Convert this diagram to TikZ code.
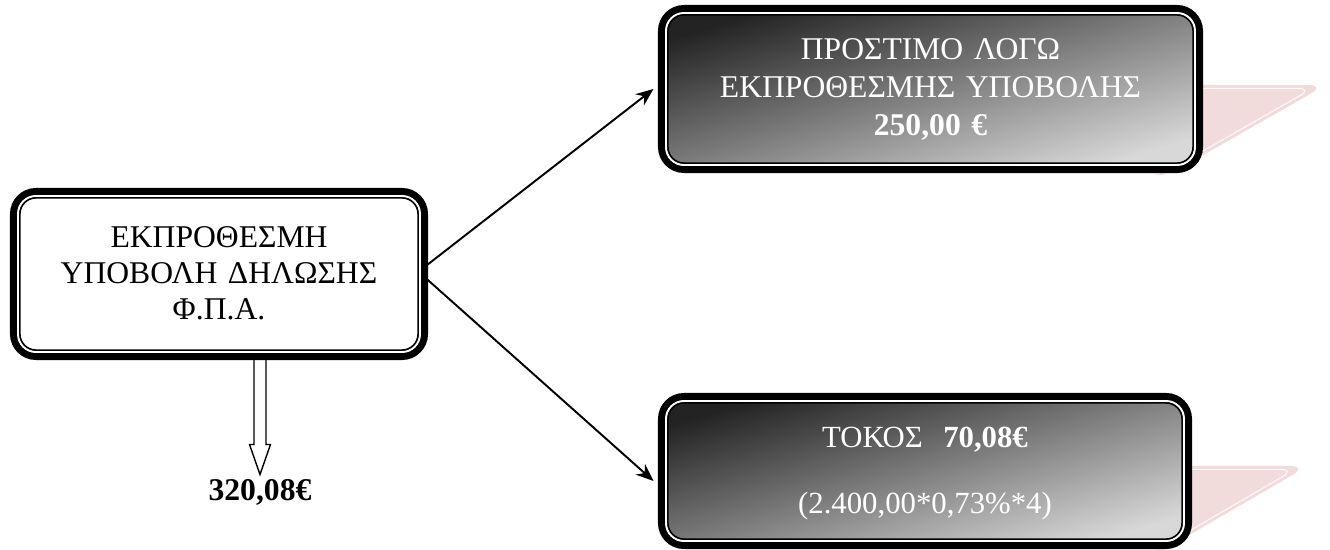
\documentclass[tikz,border=0pt]{standalone}
\usepackage{fontspec}
\setmainfont{Liberation Serif}
\usepackage{xcolor}
\usetikzlibrary{positioning,calc,arrows.meta}
\definecolor{boxdark}{RGB}{35,35,35}
\definecolor{boxlight}{RGB}{216,216,216}
\definecolor{rose}{RGB}{242,220,219}

\begin{document}
\begin{tikzpicture}[font=\fontsize{17.5}{22}\selectfont,
				panel/.style={draw, line width=4pt, rounded corners=0.45cm, outer sep=0pt, inner sep=0pt, align=center},
				plainpanel/.style={panel, fill=white, text=black},
				greypanel/.style={panel, top color=boxdark, bottom color=boxlight, shading angle=17, text=white},
				trim/.style={draw, line width=1pt, double=white, double distance=1.1pt, rounded corners=0.36cm},
				link/.style={-{Stealth[length=10pt,width=8pt]}, line width=1.1pt},
				hollow/.style={draw, line width=0.8pt, line join=miter},
				sum/.style={font=\fontsize{18}{20}\selectfont\bfseries, inner sep=1pt}]
				\useasboundingbox (0,0) rectangle (26.6,11);

				% pink tabs behind the two result boxes
				\fill[rose, rounded corners=10pt] (23.0,9.3) -- (26.52,9.3) -- (23.36,7.5) -- (23.0,7.5) -- cycle;
				\draw[white, line width=0.5pt, rounded corners=8pt] (23.1,9.23) -- (26.25,9.23) -- (23.34,7.57);
				\fill[rose, rounded corners=10pt] (23.0,1.68) -- (26.16,1.68) -- (23.2,-0.04) -- (23.0,-0.04) -- cycle;
				\draw[white, line width=0.5pt, rounded corners=8pt] (23.1,1.61) -- (25.9,1.61) -- (23.13,0.0);

				\node[plainpanel, font=\fontsize{18}{20.4}\selectfont, text width=8.22cm, text height=1.13cm, text depth=2.17cm] (fva) at (4.38,5.52) {ΕΚΠΡΟΘΕΣΜΗ\\ΥΠΟΒΟΛΗ ΔΗΛΩΣΗΣ\\Φ.Π.Α.};
				\node[greypanel, font=\fontsize{18}{21.5}\selectfont, text width=10.76cm, text height=1.03cm, text depth=2.19cm] (fine) at (18.61,9.22) {ΠΡΟΣΤΙΜΟ ΛΟΓΩ\\ΕΚΠΡΟΘΕΣΜΗΣ ΥΠΟΒΟΛΗΣ\\\textbf{250,00 €}};
				\node[greypanel, text width=10.54cm, text height=1.03cm, text depth=1.95cm] (interest) at (18.5,1.58) {ΤΟΚΟΣ\ \ \textbf{70,08€}\\[15pt](2.400,00*0,73\%*4)};
				\node[sum, below=2.42cm of fva.south, xshift=0.82cm] (total) {320,08€};

				% thin inner rule of each double frame
				\foreach \n in {fva,fine,interest}
					\draw[trim] ([shift={(2.55pt,2.55pt)}]\n.south west) rectangle ([shift={(-2.55pt,-2.55pt)}]\n.north east);

				\draw[link] ([yshift=0.14cm]fva.east) -- ([xshift=-0.16cm]fine.west);
				\draw[link] ([yshift=-0.06cm]fva.east) -- ([xshift=-0.16cm,yshift=-0.2cm]interest.west);

				\coordinate (drop) at ([xshift=0.82cm]fva.south);
				\draw[hollow] ($(drop)+(-0.12,0)$) -- ($(total.north)+(-0.12,0.66)$) -- ($(total.north)+(-0.21,0.66)$) -- ($(total.north)+(0,0.06)$) -- ($(total.north)+(0.21,0.66)$) -- ($(total.north)+(0.12,0.66)$) -- ($(drop)+(0.12,0)$);
			\end{tikzpicture}
\end{document}
